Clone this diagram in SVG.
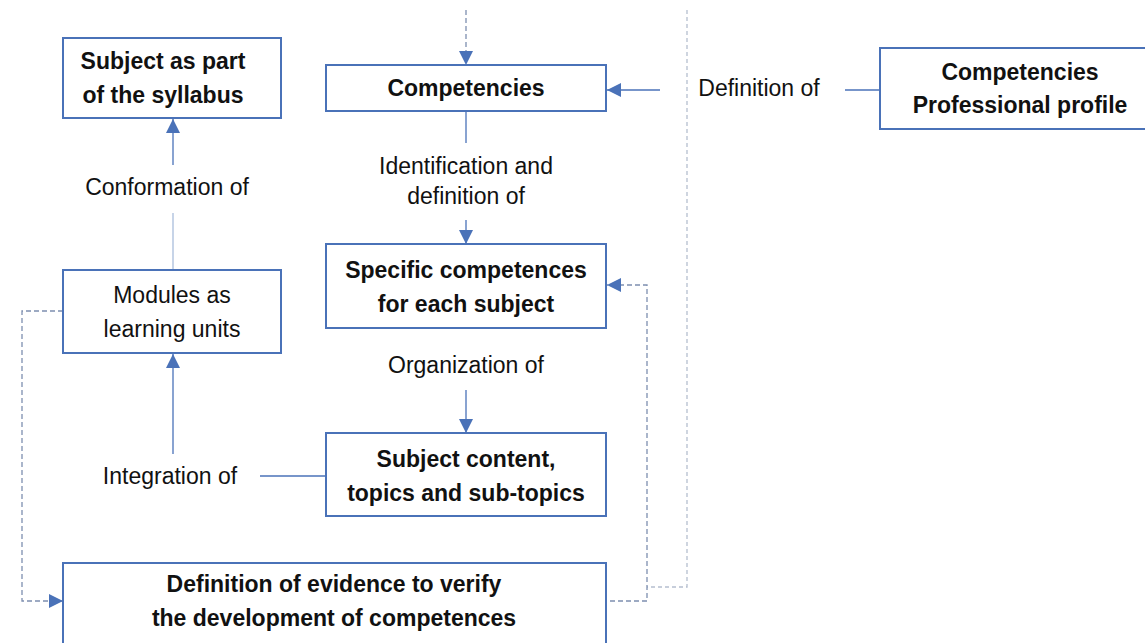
<svg xmlns="http://www.w3.org/2000/svg" width="1145" height="643" viewBox="0 0 1145 643">
  <style>
    .box { fill: #ffffff; stroke: #4a72b8; stroke-width: 2; }
    .t { font-family: "Liberation Sans", Arial, sans-serif; font-size: 23px; fill: #111; text-anchor: middle; }
    .b { font-weight: bold; }
    .line { fill: none; stroke: #4a72b8; stroke-width: 1.3; }
    .faint { fill: none; stroke: #a9bddc; stroke-width: 1.3; }
    .dash { fill: none; stroke: #7d8fb0; stroke-width: 1.3; stroke-dasharray: 5 3; }
    .dot { fill: none; stroke: #b5bfcf; stroke-width: 1.3; stroke-dasharray: 4 3; }
  </style>
  <defs>
    <marker id="arrowL" viewBox="0 0 10 10" refX="10" refY="5" markerWidth="14" markerHeight="14" markerUnits="userSpaceOnUse" orient="auto">
      <path d="M0,0 L10,5 L0,10 z" fill="#4a72b8"/>
    </marker>
  </defs>
  <rect width="1145" height="643" fill="#ffffff"/>

  <g id="connectors">
    <!-- incoming dashed arrow at top -->
    <path class="dash" d="M466,10 L466,65" marker-end="url(#arrowL)"/>
    <!-- profile boundary -->
    <path class="dot" d="M687,10 L687,587 L647,587"/>
    <!-- definition of -->
    <path class="line" d="M845,90 L880,90"/>
    <path class="line" d="M660,90 L607,90" marker-end="url(#arrowL)"/>
    <!-- identification and definition of -->
    <path class="line" d="M466,111 L466,143"/>
    <path class="line" d="M466,220 L466,244" marker-end="url(#arrowL)"/>
    <!-- organization of -->
    <path class="line" d="M466,390 L466,433" marker-end="url(#arrowL)"/>
    <!-- integration of -->
    <path class="line" d="M260,476 L326,476"/>
    <path class="line" d="M173,454 L173,354" marker-end="url(#arrowL)"/>
    <!-- conformation of -->
    <path class="faint" d="M173,270 L173,213"/>
    <path class="line" d="M173,165 L173,119" marker-end="url(#arrowL)"/>
    <!-- evidence feedback -->
    <path class="dash" d="M610,601 L647,601 L647,285 L607,285" marker-end="url(#arrowL)"/>
    <!-- modules to evidence -->
    <path class="dash" d="M63,311 L22,311 L22,601 L63,601" marker-end="url(#arrowL)"/>

    <text class="t" x="759" y="96">Definition of</text>
    <text class="t" x="466" y="174">Identification and</text>
    <text class="t" x="466" y="204">definition of</text>
    <text class="t" x="466" y="373">Organization of</text>
    <text class="t" x="170" y="484">Integration of</text>
    <text class="t" x="167" y="195">Conformation of</text>
  </g>

  <g id="node-syllabus">
    <rect class="box" x="63" y="38" width="218" height="80"/>
    <text class="t b" x="163" y="69">Subject as part</text>
    <text class="t b" x="163" y="103">of the syllabus</text>
  </g>

  <g id="node-competencies">
    <rect class="box" x="326" y="65" width="280" height="46"/>
    <text class="t b" x="466" y="96">Competencies</text>
  </g>

  <g id="node-profile">
    <rect class="box" x="880" y="48" width="275" height="81"/>
    <text class="t b" x="1020" y="80">Competencies</text>
    <text class="t b" x="1020" y="113">Professional profile</text>
  </g>

  <g id="node-specific">
    <rect class="box" x="326" y="244" width="280" height="84"/>
    <text class="t b" x="466" y="278">Specific competences</text>
    <text class="t b" x="466" y="312">for each subject</text>
  </g>

  <g id="node-modules">
    <rect class="box" x="63" y="270" width="218" height="83"/>
    <text class="t" x="172" y="303">Modules as</text>
    <text class="t" x="172" y="337">learning units</text>
  </g>

  <g id="node-content">
    <rect class="box" x="326" y="433" width="280" height="83"/>
    <text class="t b" x="466" y="467">Subject content,</text>
    <text class="t b" x="466" y="501">topics and sub-topics</text>
  </g>

  <g id="node-evidence">
    <rect class="box" x="63" y="563" width="543" height="90"/>
    <text class="t b" x="334" y="592">Definition of evidence to verify</text>
    <text class="t b" x="334" y="626">the development of competences</text>
  </g>
</svg>
